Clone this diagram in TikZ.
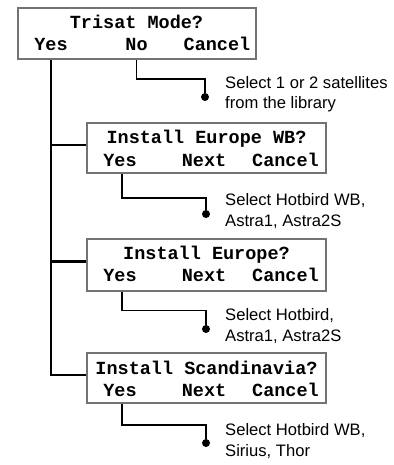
\documentclass[tikz,border=0pt]{standalone}
\usepackage{fontspec}
\setmainfont{Liberation Sans}
\setmonofont{Liberation Mono}
\usetikzlibrary{calc}

\begin{document}
\begin{tikzpicture}[x=1pt,y=-1pt,
    screen/.style={draw=black!55,line width=2pt,minimum width=239pt,inner sep=0pt},
    key/.style={anchor=base,inner sep=0pt,font=\fontsize{18.5}{20}\selectfont\ttfamily\bfseries},
    note/.style={anchor=base west,inner sep=0pt,align=left,font=\fontsize{16.6}{20.5}\selectfont},
    dot/.style={circle,fill,inner sep=0pt,minimum size=8pt},
    wire/.style={line width=1.6pt}]
  \useasboundingbox (0,0) rectangle (393,465);

  % top screen
  \node[screen,minimum width=238pt,minimum height=51pt] (box1) at (136.5,33.5) {};
  \node[key] (title1) at (136.5,29) {Trisat Mode?};
  \node[key] (yes1) at (51,51) {Yes};
  \node[key] (no1) at (136.5,51) {No};
  \node[key] (cancel1) at (217,51) {Cancel};

  % the three install screens
  \node[screen,minimum height=50pt] (box2) at (206.5,148) {};
  \node[key] (title2) at (206.5,144) {Install Europe WB?};
  \node[key] (yes2) at (120,166) {Yes};
  \node[key] (next2) at (204,166) {Next};
  \node[key] (cancel2) at (285.5,166) {Cancel};

  \node[screen,minimum height=52pt] (box3) at (206.5,264.5) {};
  \node[key] (title3) at (206.5,259) {Install Europe?};
  \node[key] (yes3) at (120,281) {Yes};
  \node[key] (next3) at (204,281) {Next};
  \node[key] (cancel3) at (285.5,281) {Cancel};

  \node[screen,minimum height=50pt] (box4) at (206.5,378) {};
  \node[key] (title4) at (206.5,374) {Install Scandinavia?};
  \node[key] (yes4) at (120,396) {Yes};
  \node[key] (next4) at (204,396) {Next};
  \node[key] (cancel4) at (285.5,396) {Cancel};

  % notes (base is the last line)
  \node[dot] (d1) at (205,97) {};
  \node[note] (n1) at (225,109) {Select 1 or 2 satellites\\from the library};
  \node[dot] (d2) at (206,214) {};
  \node[note] (n2) at (225,226) {Select Hotbird WB,\\Astra1, Astra2S};
  \node[dot] (d3) at (206,329) {};
  \node[note] (n3) at (225,341) {Select Hotbird,\\Astra1, Astra2S};
  \node[dot] (d4) at (206,443) {};
  \node[note] (n4) at (225,456) {Select Hotbird WB,\\Sirius, Thor};

  % Yes runs down the left side
  \draw[line width=2.4pt] (yes1 |- box1.south) |- ([yshift=3pt]box4.west);
  \draw[line width=2.4pt] (yes1 |- box2.west) ++(0,-3) -- ([yshift=3pt]box2.west);
  \draw[line width=2.4pt] (yes1 |- box3.west) ++(0,-3) -- ([yshift=3pt]box3.west);

  \draw[wire] (no1 |- box1.south) -- ++(0,19) -| (d1);
  \draw[wire] (yes2 |- box2.south) ++(2,0) -- ++(0,24) -| (d2);
  \draw[wire] (yes3 |- box3.south) ++(2,0) -- ++(0,19) -| (d3);
  \draw[wire] (yes4 |- box4.south) ++(2,0) -- ++(0,21) -| (d4);
\end{tikzpicture}
\end{document}
